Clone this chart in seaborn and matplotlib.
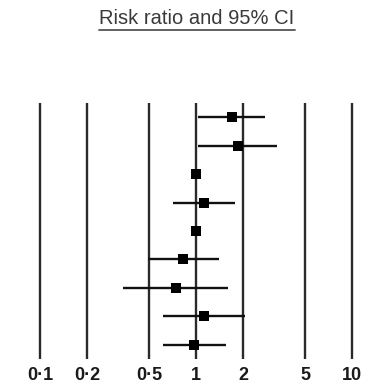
import numpy as np
import pandas as pd
import seaborn as sns
import matplotlib.pyplot as plt
from matplotlib.lines import Line2D

# ratios, top row first
study = [1, 2, 3, 4, 5, 6, 7, 8, 9]
rr = [1.70, 1.86, 1.00, 1.13, 1.00, 0.83, 0.74, 1.13, 0.97]
ci_low = [1.03, 1.03, 0.98, 0.71, 0.98, 0.49, 0.34, 0.61, 0.61]
ci_high = [2.77, 3.31, 1.02, 1.78, 1.02, 1.40, 1.60, 2.06, 1.56]

ticks = [0.1, 0.2, 0.5, 1, 2, 5, 10]
tick_labels = ['0·1', '0·2', '0·5', '1', '2', '5', '10']
title = 'Risk ratio and 95% CI'

df = pd.DataFrame({'study': study, 'rr': rr, 'lo': ci_low, 'hi': ci_high})

sns.set_style('white')
plt.rcParams['font.family'] = ['Liberation Sans', 'DejaVu Sans']

fig = plt.figure(figsize=(3.75, 3.89), dpi=100)
W, H = 375, 389
ax = fig.add_axes([40 / W, 1 - 359 / H, 312 / W, 256 / H])
ax.set_xscale('log')
ax.set_xlim(0.1, 10)
ax.set_ylim(9.5, 0.5)

# reference lines at every tick
ax.vlines(ticks, 9.5, 0.5, color='#2a2a2a', lw=1.7, zorder=1, clip_on=False)

# confidence intervals
ax.hlines(df['study'], df['lo'], df['hi'], color='#111111', lw=1.7, zorder=2)
sns.scatterplot(data=df, x='rr', y='study', marker='s', s=60, color='black',
                edgecolor='black', linewidth=0, ax=ax, zorder=3, legend=False)

ax.set_xticks(ticks)
ax.set_xticklabels(tick_labels, fontsize=13, fontweight='bold', color='#1a1a1a')
ax.xaxis.set_minor_locator(plt.NullLocator())
ax.tick_params(axis='x', length=0, pad=6)
ax.set_yticks([])
ax.set_xlabel('')
ax.set_ylabel('')
for s in ax.spines.values():
    s.set_visible(False)

t = fig.text(197 / W, 1 - 19 / H, title, ha='center', va='center',
             fontsize=14.5, color='#3a3a3a')

# underline the title
fig.canvas.draw()
bb = t.get_window_extent()
y_line = bb.y0 - 1
fig.add_artist(Line2D([bb.x0 / W, bb.x1 / W], [y_line / H, y_line / H],
                      transform=fig.transFigure, color='#555555', lw=1.3))

fig.savefig('out.png', dpi=100)
